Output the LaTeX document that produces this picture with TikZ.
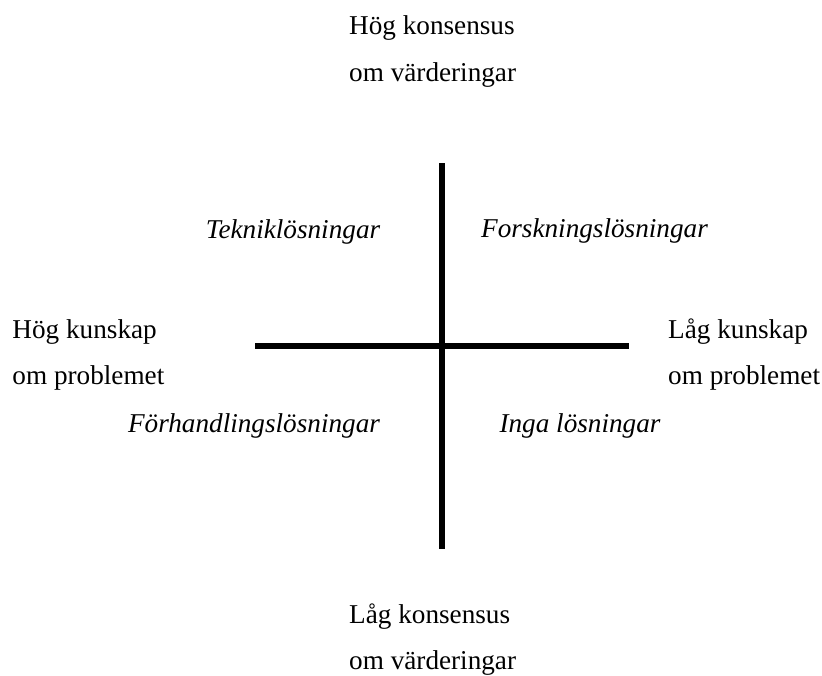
\documentclass[tikz,border=0pt]{standalone}
\usepackage{fontspec}
\setmainfont{Liberation Serif}
\begin{document}
\begin{tikzpicture}[x=1pt,y=-1pt,
  lbl/.style={inner sep=0pt,font=\fontsize{27.2}{32}\selectfont},
  qlbl/.style={lbl,font=\fontsize{27.2}{32}\selectfont\itshape},
  axis/.style={line width=5.5pt,line cap=butt}]
\useasboundingbox (0,0) rectangle (822,675);
% axis end points
\coordinate (vt) at (442,163);
\coordinate (vb) at (442,549);
\coordinate (hl) at (255,346);
\coordinate (hr) at (629,346);
\draw[axis] (vt) -- (vb);
\draw[axis] (hl) -- (hr);
% axis labels
\node[lbl,anchor=base west] (t1) at (349,34) {Hög konsensus};
\node[lbl,anchor=base west] (t2) at (349,81) {om värderingar};
\node[lbl,anchor=base west] (b1) at (349,623) {Låg konsensus};
\node[lbl,anchor=base west] (b2) at (349,669) {om värderingar};
\node[lbl,anchor=base west] (l1) at (12.3,338) {Hög kunskap};
\node[lbl,anchor=base west] (l2) at (12.3,384) {om problemet};
\node[lbl,anchor=base west] (r1) at (668,338) {Låg kunskap};
\node[lbl,anchor=base west] (r2) at (668,384) {om problemet};
% quadrant labels
\node[qlbl,anchor=base] (q1) at (293,238) {Tekniklösningar};
\node[qlbl,anchor=base] (q2) at (594.5,237.5) {Forskningslösningar};
\node[qlbl,anchor=base] (q3) at (254,432) {Förhandlingslösningar};
\node[qlbl,anchor=base] (q4) at (580,432) {Inga lösningar};
\end{tikzpicture}
\end{document}
